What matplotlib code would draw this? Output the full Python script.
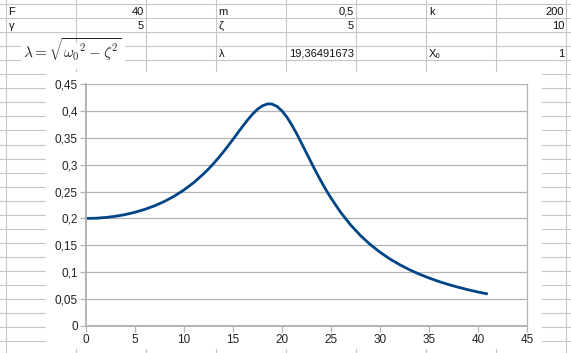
import matplotlib
matplotlib.use("Agg")
import matplotlib.pyplot as plt
from matplotlib.patches import Rectangle

# amplitude curve (omega -> amplitude)
omega = [0, 1, 2, 3, 4, 5, 6, 7, 8, 9, 10, 11, 12, 12.5, 13, 13.5, 14, 14.5,
         15, 15.5, 16, 16.5, 17, 17.5, 18, 18.5, 18.75, 19, 19.5, 20, 20.5,
         21, 21.5, 22, 22.5, 23, 23.5, 24, 24.5, 25, 26, 27, 28, 29, 30, 31,
         32, 33, 34, 35, 36, 37, 38, 39, 40, 41]
amplitude = [0.2000, 0.2004, 0.2018, 0.2040, 0.2072, 0.2115, 0.2169, 0.2235,
             0.2316, 0.2414, 0.2530, 0.2668, 0.2830, 0.2920, 0.3018, 0.3123,
             0.3233, 0.3350, 0.3471, 0.3594, 0.3716, 0.3834, 0.3940, 0.4030,
             0.4094, 0.4128, 0.4131, 0.4125, 0.4082, 0.4000, 0.3884, 0.3739,
             0.3574, 0.3397, 0.3215, 0.3034, 0.2857, 0.2688, 0.2528, 0.2379,
             0.2110, 0.1880, 0.1683, 0.1516, 0.1372, 0.1248, 0.1141, 0.1047,
             0.0965, 0.0893, 0.0828, 0.0771, 0.0720, 0.0674, 0.0632, 0.0595]

# spreadsheet cells: (row, col, text)
cell_labels = [(0, 0, "F"), (0, 3, "m"), (0, 6, "k"),
               (1, 0, "γ"), (1, 3, "ζ"),
               (3, 3, "λ"), (3, 6, "X₀")]
cell_values = [(0, 1, "40"), (0, 4, "0,5"), (0, 7, "200"),
               (1, 1, "5"), (1, 4, "5"), (1, 7, "10"),
               (3, 4, "19,36491673"), (3, 7, "1")]

xticks = [0, 5, 10, 15, 20, 25, 30, 35, 40, 45]
yticks = [0, 0.05, 0.1, 0.15, 0.2, 0.25, 0.3, 0.35, 0.4, 0.45]

W, H = 571, 353
plt.rcParams['font.family'] = ['Liberation Sans', 'DejaVu Sans']
plt.rcParams['mathtext.fontset'] = 'cm'

fig = plt.figure(figsize=(W / 100, H / 100), dpi=100)

# sheet background in pixel coords
bg = fig.add_axes([0, 0, 1, 1])
bg.set_xlim(0, W)
bg.set_ylim(H, 0)
bg.axis("off")

col_x = [5.5 + 70.06 * i for i in range(9)]
row_y = [4.3 + 14.02 * i for i in range(26)]
grid_col = "#c6c6c6"
for x in col_x:
    bg.plot([x, x], [0, H], color=grid_col, lw=0.8, zorder=1)
for y in row_y:
    bg.plot([0, W], [y, y], color=grid_col, lw=0.8, zorder=1)

for r, c, s in cell_labels:
    yc = (row_y[r] + row_y[r + 1]) / 2 + 0.5
    bg.text(col_x[c] + 3, yc, s, fontsize=8, ha="left", va="center", color="#111111", zorder=3)
for r, c, s in cell_values:
    yc = (row_y[r] + row_y[r + 1]) / 2 + 0.5
    bg.text(col_x[c + 1] - 2, yc, s, fontsize=8, ha="right", va="center", color="#111111", zorder=3)

# formula image
bg.add_patch(Rectangle((21, 43), 104, 26, facecolor="white", edgecolor="none", zorder=2))
bg.text(23, 58, r"$\lambda = \sqrt{\omega_0{}^2 - \zeta^2}$", fontsize=11,
        ha="left", va="baseline", color="#222222", zorder=3)

# chart object background
bg.add_patch(Rectangle((46, 72), 496, 277, facecolor="white", edgecolor="none", zorder=2))

ax = fig.add_axes([86 / W, (H - 326) / H, (527 - 86) / W, (326 - 84) / H])
ax.plot(omega, amplitude, color="#004586", lw=2.0, solid_capstyle="butt")
ax.set_xlim(0, 45)
ax.set_ylim(0, 0.45)
ax.set_xticks(xticks)
ax.set_yticks(yticks)
ax.set_xticklabels([str(t) for t in xticks])
ax.set_yticklabels([f"{t:g}".replace(".", ",") for t in yticks])
ax.grid(axis="y", color="#b3b3b3", lw=0.9)
ax.set_axisbelow(True)
for side in ["left", "bottom"]:
    ax.spines[side].set_color("#b3b3b3")
    ax.spines[side].set_linewidth(1.4)
ax.spines["right"].set_color("#b3b3b3")
ax.spines["right"].set_linewidth(0.9)
ax.spines["top"].set_visible(False)
ax.tick_params(axis="both", color="#b3b3b3", width=0.9, length=4, labelsize=8.5,
               labelcolor="#222222", pad=2)

fig.savefig("out.png", dpi=100)
